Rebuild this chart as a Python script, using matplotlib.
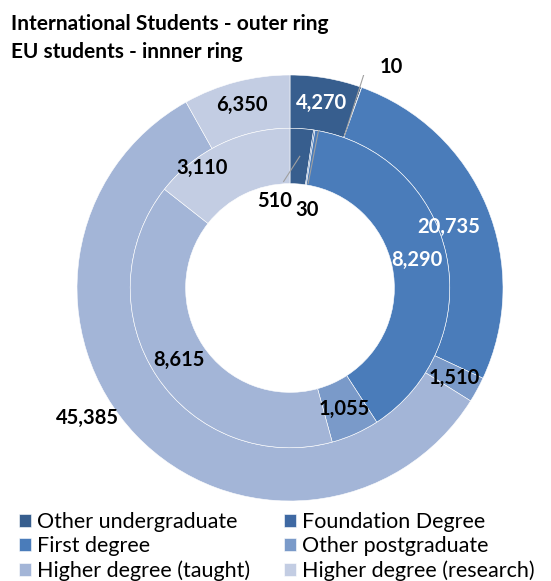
import numpy as np
import matplotlib.pyplot as plt

categories = ['Other undergraduate', 'Foundation Degree', 'First degree',
              'Other postgraduate', 'Higher degree (taught)', 'Higher degree (research)']
international = [4270, 10, 20735, 1510, 45385, 6350]   # outer ring
eu = [510, 30, 8290, 1055, 8615, 3110]                 # inner ring
colors = ['#375E8E', '#3F69A3', '#4A7CBA', '#7A9AC9', '#A3B5D7', '#C3CDE3']

plt.rcParams['font.family'] = ['Lato', 'DejaVu Sans']

W, H = 551, 581
fig = plt.figure(figsize=(W / 100, H / 100), dpi=100)
cx, cy, R = 290, 288, 213
ax = fig.add_axes([(cx - R) / W, (H - cy - R) / H, 2 * R / W, 2 * R / H])

wp = dict(edgecolor='white', linewidth=0.4)
outer, _ = ax.pie(international, radius=1.0, colors=colors, startangle=90,
                  counterclock=False, wedgeprops=dict(width=0.25, **wp))
inner, _ = ax.pie(eu, radius=0.75, colors=colors, startangle=90,
                  counterclock=False, wedgeprops=dict(width=0.26, **wp))
ax.set_xlim(-1, 1)
ax.set_ylim(-1, 1)
ax.set_aspect('equal')

FS = 14.5


def mid(w):
    return np.deg2rad((w.theta1 + w.theta2) / 2)


def put(w, val, r, dang=0, color='black', line_from=None):
    a = mid(w) + np.deg2rad(dang)
    x, y = r * np.cos(a), r * np.sin(a)
    ax.text(x, y, f'{val:,}', ha='center', va='center', fontsize=FS,
            fontweight='bold', color=color)
    if line_from is not None:
        lr, la, pts = line_from
        b = mid(w) + np.deg2rad(la)
        xs = [lr * np.cos(b)] + [p[0] for p in pts]
        ys = [lr * np.sin(b)] + [p[1] for p in pts]
        ax.plot(xs, ys, color='#A0A0A0', lw=0.8)


# outer ring labels
label_style = [
    dict(r=0.88, color='white'),
    dict(r=1.14, dang=-5, line_from=(0.76, 0, [(0.36, 1.045), (0.385, 1.055)])),
    dict(r=0.80, dang=-1.7, color='white'),
    dict(r=0.88),
    dict(r=1.13, dang=-11),
    dict(r=0.89),
]
for w, v, st in zip(outer, international, label_style):
    put(w, v, **st)

# inner ring labels
label_style_in = [
    dict(r=0.415, dang=14.5, line_from=(0.62, 0, [(-0.03, 0.50)])),
    dict(r=0.375, dang=-3.5, line_from=(0.75, -1.5, [(0.085, 0.49)])),
    dict(r=0.61, dang=0.4, color='white'),
    dict(r=0.62),
    dict(r=0.62, dang=-0.6),
    dict(r=0.70, dang=10.4),
]
for w, v, st in zip(inner, eu, label_style_in):
    put(w, v, **st)

fig.text(11 / W, 1 - 24 / H, 'International Students - outer ring', fontsize=15,
         fontweight='bold', va='center', ha='left')
fig.text(11 / W, 1 - 52 / H, 'EU students - innner ring', fontsize=15,
         fontweight='bold', va='center', ha='left')

order = [0, 2, 4, 1, 3, 5]
fig.legend([outer[i] for i in order], [categories[i] for i in order],
           ncol=2, loc='upper left', bbox_to_anchor=(19 / W, 1 - 512 / H),
           frameon=False, fontsize=15.5, handlelength=0.55, handleheight=0.55,
           handletextpad=0.3, columnspacing=1.55, labelspacing=0.19,
           borderpad=0, borderaxespad=0)

fig.savefig('out.png', dpi=100)
